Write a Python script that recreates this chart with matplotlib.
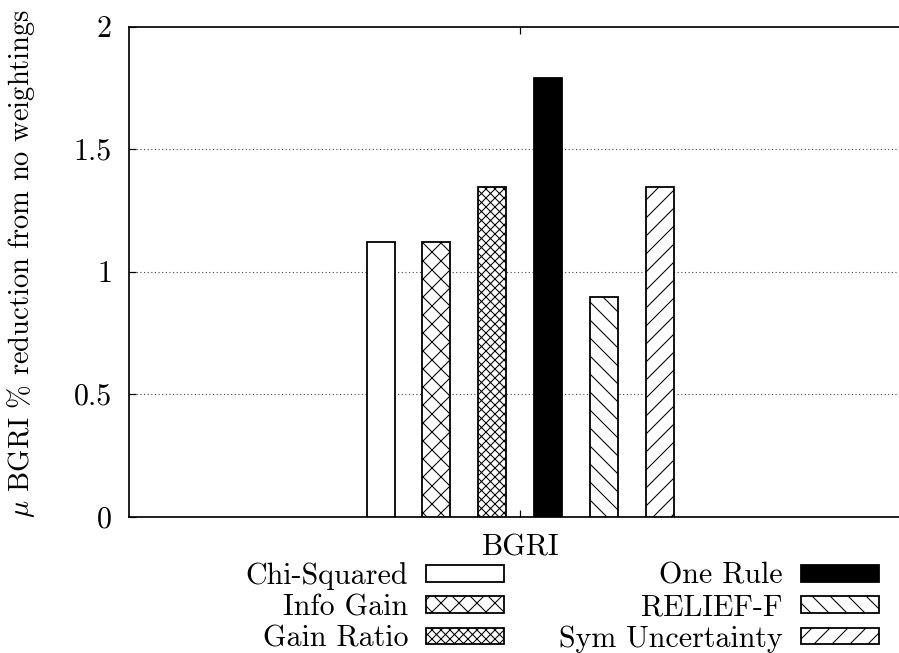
import matplotlib
matplotlib.use("Agg")
import matplotlib.pyplot as plt
import numpy as np

plt.rcParams["font.family"] = "cmr10"
plt.rcParams["mathtext.fontset"] = "cm"
plt.rcParams["axes.formatter.use_mathtext"] = True
plt.rcParams["hatch.linewidth"] = 0.7

# Data
group = "BGRI"
methods = ["Chi-Squared", "Info Gain", "Gain Ratio",
           "One Rule", "RELIEF-F", "Sym Uncertainty"]
reduction = [1.12, 1.12, 1.344, 1.792, 0.896, 1.344]
yticks = [0, 0.5, 1, 1.5, 2]
ytick_labels = ["0", "0.5", "1", "1.5", "2"]

# Styling per weighting method
fills = ["white", "white", "white", "black", "white", "white"]
hatches = [None, "xx", "xxxx", None, "\\\\", "//"]

DPI = 108
W, H = 899, 653
FS = 20


def px(v):
    """Pixels to points at the output resolution."""
    return v * 72.0 / DPI


fig = plt.figure(figsize=(W / DPI, H / DPI), dpi=DPI)
ax = fig.add_axes([129 / W, 1 - 516.7 / H, 782.6 / W, 490 / H])

n = len(methods)
offsets = np.arange(n) - (n - 1) / 2
bars = ax.bar(offsets, reduction, width=0.5, color=fills,
              edgecolor="black", linewidth=px(1.8), zorder=3)
for bar, h in zip(bars, hatches):
    if h:
        bar.set_hatch(h)

ax.set_xlim(-7, 7)
ax.set_ylim(0, 2)
ax.set_xticks([0])
ax.set_xticklabels([group])
ax.set_yticks(yticks)
ax.set_yticklabels(ytick_labels)
ax.tick_params(direction="in", length=px(7), width=px(1.2), top=True,
               right=True, labelsize=FS)
ax.tick_params(axis="y", pad=px(17))
ax.tick_params(axis="x", pad=px(17))
for s in ax.spines.values():
    s.set_linewidth(px(1.7))

for y in yticks[1:-1]:
    ax.axhline(y, color="#444444", lw=px(1.1), ls=(0, (1, 2.3)), zorder=1)

ax.set_ylabel(r"$\mu$ BGRI % reduction from no weightings", fontsize=19)
ax.yaxis.set_label_coords(-0.118, 0.516)

ax.legend(bars, methods, ncol=2, markerfirst=False, frameon=False,
          fontsize=FS, handlelength=2.6, handleheight=0.47,
          handletextpad=0.6, columnspacing=1.83, labelspacing=0.13,
          borderpad=0, borderaxespad=0, loc="upper right",
          bbox_to_anchor=(879 / W, 1 - 562 / H),
          bbox_transform=fig.transFigure)

fig.savefig("out.png", dpi=DPI)
